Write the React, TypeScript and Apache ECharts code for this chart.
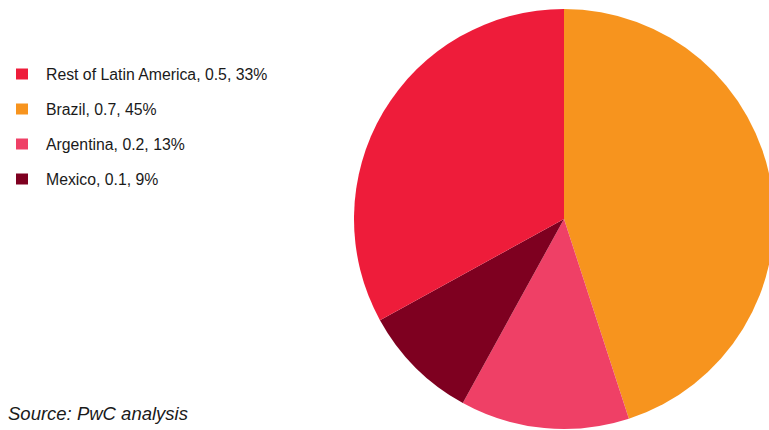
import React, { useEffect, useRef } from "react";
import * as echarts from "echarts";

const categories = ["Brazil", "Argentina", "Mexico", "Rest of Latin America"];
const values = [0.7, 0.2, 0.1, 0.5];
const shares = [45, 13, 9, 33];
const colors = ["#F7941E", "#EF4066", "#7E0020", "#EE1C3A"];
const legendOrder = ["Rest of Latin America", "Brazil", "Argentina", "Mexico"];
const sourceText = "Source: PwC analysis";

export default function App() {
  const ref = useRef<HTMLDivElement>(null);
  useEffect(() => {
    if (!ref.current) return;
    const chart = echarts.init(ref.current, null, { renderer: "svg" });
    chart.setOption({
      animation: false,
      backgroundColor: "#ffffff",
      legend: {
        orient: "vertical",
        left: 16,
        top: 66,
        padding: 0,
        itemWidth: 12,
        itemHeight: 11,
        itemGap: 19,
        icon: "rect",
        data: legendOrder,
        textStyle: {
          fontFamily: "Liberation Sans, Arial, sans-serif",
          fontSize: 15.8,
          lineHeight: 14,
          color: "#1a1a1a",
          padding: [0, 0, 0, 13],
        },
        formatter: (name: string) => {
          const i = categories.indexOf(name);
          return `${name}, ${values[i]}, ${shares[i]}%`;
        },
      },
      graphic: [
        {
          type: "text",
          x: 8,
          y: 413,
          style: {
            text: sourceText,
            font: "italic 18.5px 'Liberation Sans', Arial, sans-serif",
            fill: "#1a1a1a",
            verticalAlign: "middle",
          },
        },
      ],
      series: [
        {
          type: "pie",
          center: [564, 219],
          radius: 210,
          startAngle: 90,
          clockwise: true,
          label: { show: false },
          labelLine: { show: false },
          emphasis: { disabled: true },
          itemStyle: { borderWidth: 0 },
          data: categories.map((c, i) => ({
            name: c,
            value: shares[i],
            itemStyle: { color: colors[i] },
          })),
        },
      ],
    });
    return () => chart.dispose();
  }, []);
  return (
    <div
      ref={ref}
      style={{ position: "fixed", left: 0, top: 0, width: 769, height: 430 }}
    />
  );
}
